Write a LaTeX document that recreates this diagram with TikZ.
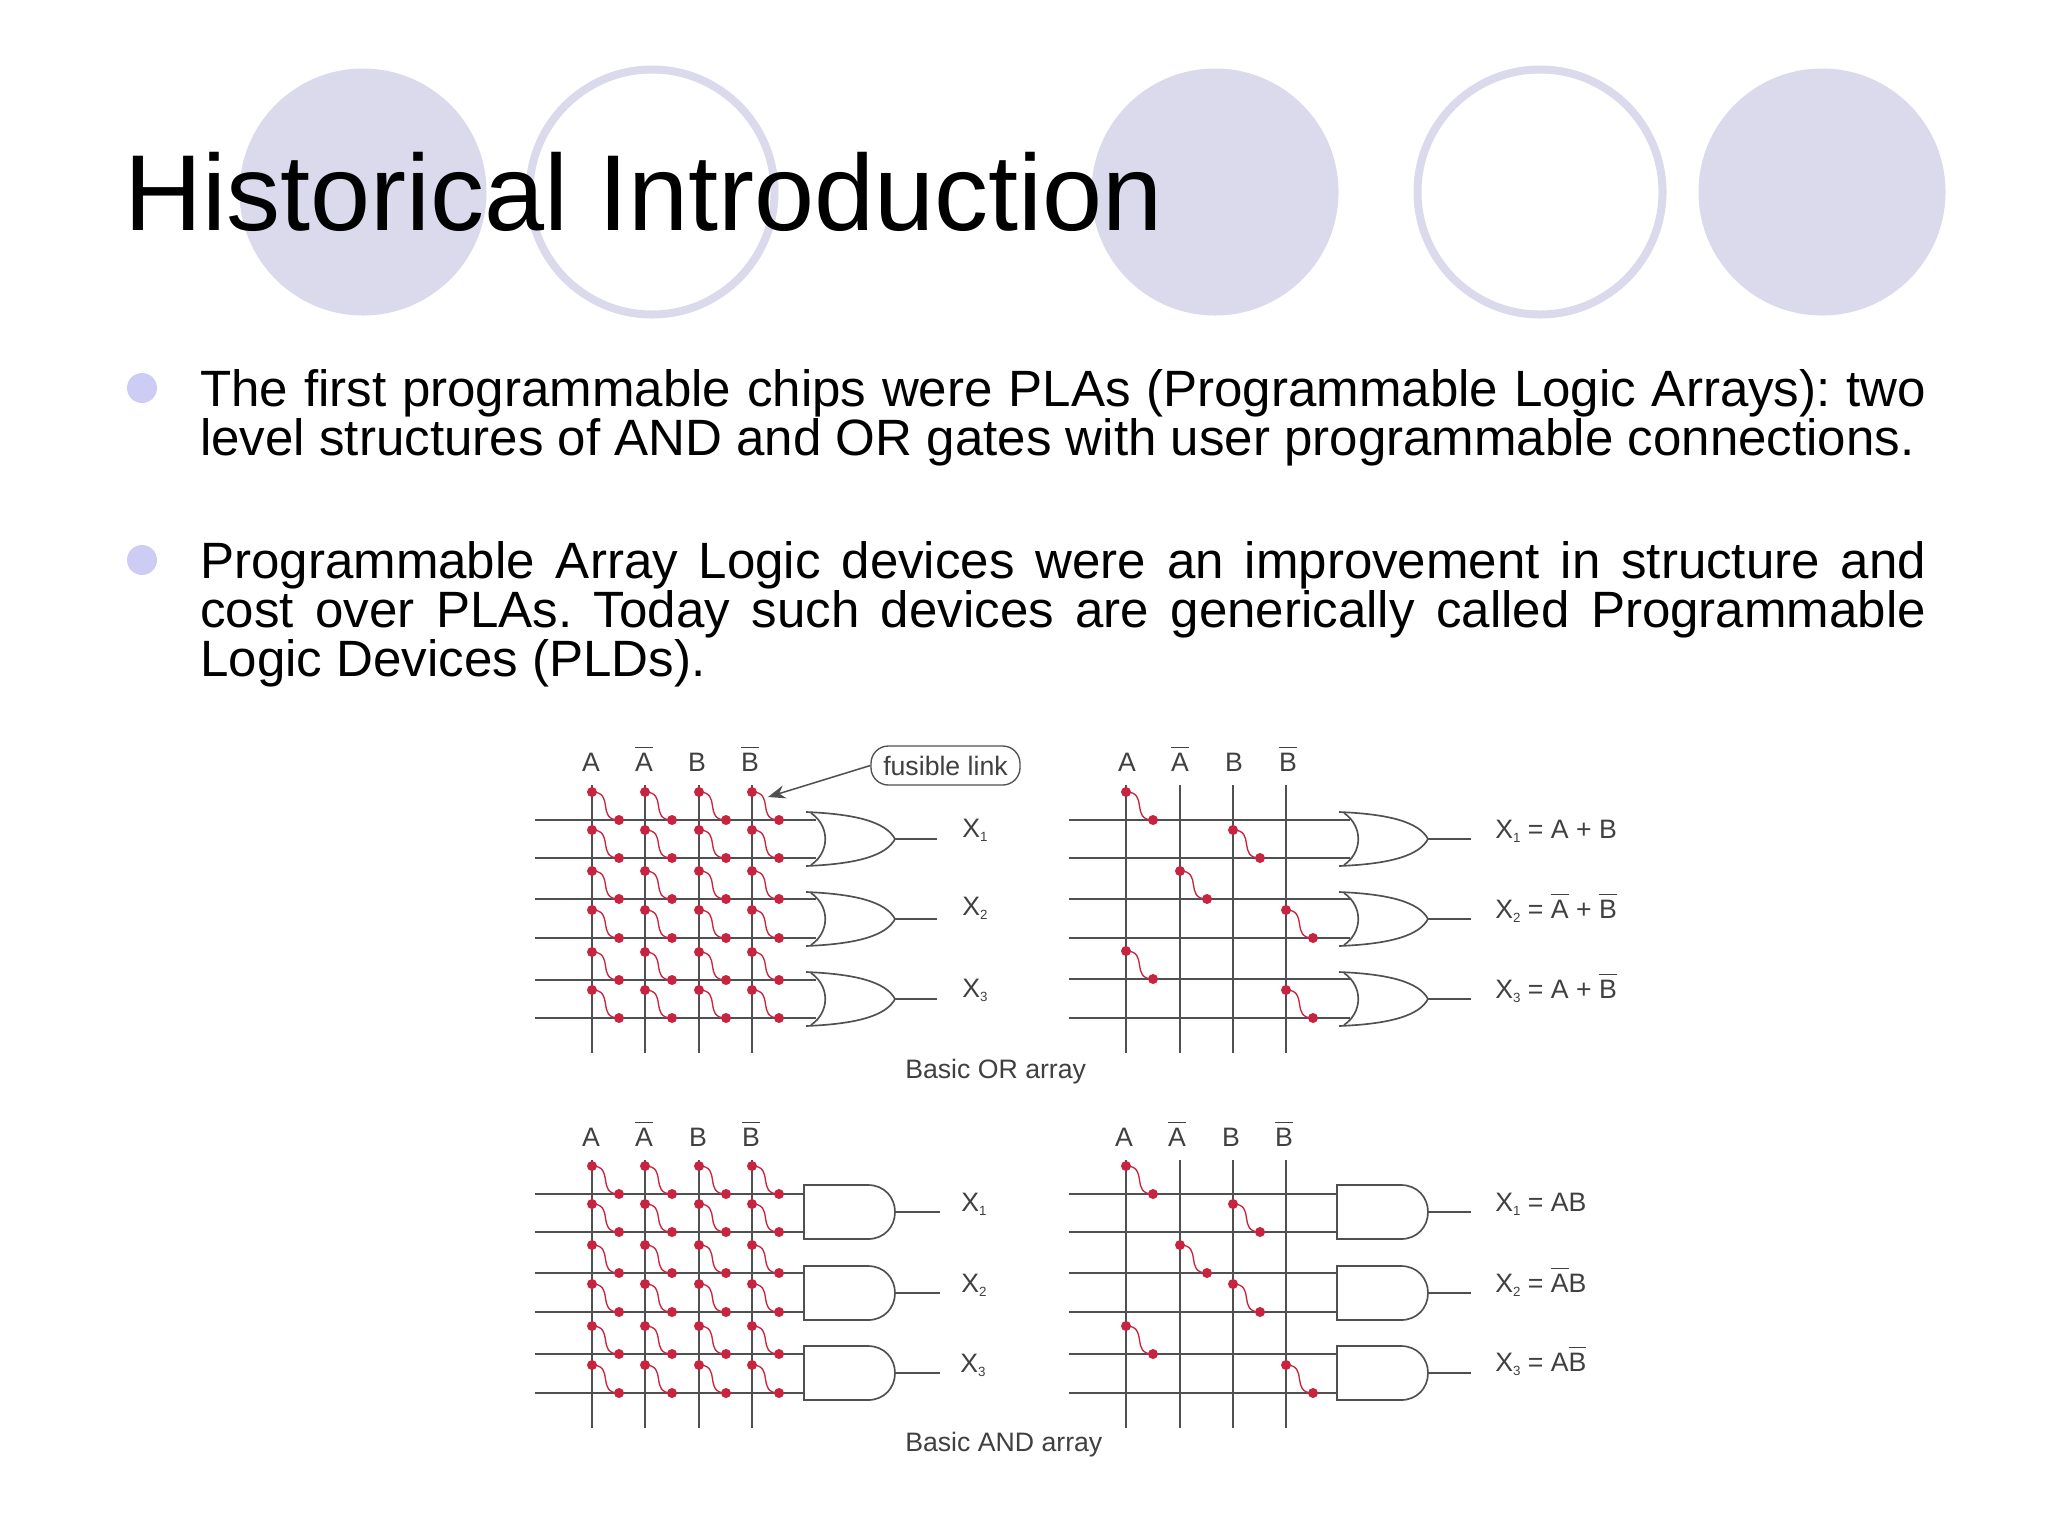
\documentclass[tikz,border=0pt]{standalone}
\usepackage{fontspec}
\setmainfont{Liberation Sans}
\usetikzlibrary{arrows.meta}
\frenchspacing
\definecolor{ringc}{HTML}{DADAEC}
\definecolor{bulc}{HTML}{CCCCF5}
\definecolor{linec}{HTML}{505050}
\definecolor{fusec}{HTML}{C82440}
\definecolor{labc}{HTML}{404040}
\tikzset{
 disc/.style={circle,fill=ringc,minimum size=247*.75pt,inner sep=0,draw=none},
 ring/.style={circle,draw=ringc,line width=6pt,fill=none,minimum size=245*.75pt,inner sep=0},
 bul/.style={circle,fill=bulc,minimum size=30*.75pt,inner sep=0},
 bodyline/.style={anchor=base west,inner sep=0,font=\fontsize{38.3}{38.3}\selectfont},
 wire/.style={draw=linec,line width=1.15pt},
 gate/.style={draw=linec,line width=1.25pt},
 fdot/.style={circle,fill=fusec,minimum size=7.5pt,inner sep=0},
 fuse/.style={draw=fusec,line width=1pt},
 dlab/.style={inner sep=0,yshift=-3pt,text=labc,font=\fontsize{20}{20}\selectfont,text height=.72em,text depth=0pt},
 eqlab/.style={dlab,anchor=west},
}
\newcommand{\ovl}[1]{\ensuremath{\overline{\mbox{\rule{0pt}{.86em}#1}}}}
\newcommand{\Xs}[1]{X\raisebox{-3pt}{\fontsize{10}{10}\selectfont #1}}
% vertical input lines
\newcommand{\vlines}[4]{\foreach \px/\pn in {#1} {
  \coordinate (vt\pn) at (\px,#2); \coordinate (vb\pn) at (\px,#3);
  \draw[wire] (vt\pn) -- (vb\pn);}}
\newcommand{\hlines}[3]{\foreach \py/\pn in {#3} {
  \coordinate (hl\pn) at (#1,\py); \coordinate (hr\pn) at (#2,\py);
  \draw[wire] (hl\pn) -- (hr\pn);}}
\newcommand{\fusible}[2]{
  \node[fdot] (fs) at (#1,#2-28) {};
  \node[fdot] (fe) at (#1+27,#2) {};
  \draw[fuse] (fs.center) .. controls +(23,0) and +(-23,0) .. (fe.center);}
\newcommand{\orgate}[4]{\begin{scope}[shift={(#1,#2)}]
  \coordinate (tp) at (0,0); \coordinate (bt) at (0,54); \coordinate (ns) at (89,27);
  \coordinate (op) at (#3,27);
  \draw[gate] (tp) .. controls (50,2) and (80,10) .. (ns) .. controls (80,44) and (50,52) .. (bt);
  \draw[gate] (5,1) .. controls (24,14) and (24,40) .. (5,53);
  \draw[wire] (ns) -- (op);
  #4
\end{scope}}
\newcommand{\andgate}[3]{\begin{scope}[shift={(#1,#2)}]
  \coordinate (tp) at (0,0); \coordinate (bt) at (0,54); \coordinate (ns) at (91,27);
  \coordinate (op) at (#3,27);
  \draw[gate] (tp) -- (64,0) .. controls (80,0) and (91,12) .. (ns) .. controls (91,42) and (80,54) .. (64,54) -- (bt) -- cycle;
  \draw[wire] (ns) -- (op);
\end{scope}}
\begin{document}
\begin{tikzpicture}[x=.75pt,y=-.75pt]
\useasboundingbox (0,0) rectangle (2048,1536);
\fill[white] (0,0) rectangle (2048,1536);
% decoration
\node[disc] (d1) at (363,192) {};
\node[ring] (r1) at (652,192) {};
\node[disc] (d2) at (1215,192) {};
\node[ring] (r2) at (1540,192) {};
\node[disc] (d3) at (1822,192) {};
% title
\node[anchor=base west,inner sep=0,font=\fontsize{81}{81}\selectfont] (title) at (124,230) {Historical Introduction};
% body
\node[bul] (b1) at (142,388) {};
\node[bul] (b2) at (142,560) {};
\node[bodyline] (l1) at (200,406) {\makebox[1294.5pt][s]{The first programmable chips were PLAs (Programmable Logic Arrays): two}};
\node[bodyline] (l2) at (200,455) {level structures of AND and OR gates with user programmable connections.};
\node[bodyline] (l3) at (200,578) {\makebox[1294.5pt][s]{Programmable Array Logic devices were an improvement in structure and}};
\node[bodyline] (l4) at (200,627) {\makebox[1294.5pt][s]{cost over PLAs. Today such devices are generically called Programmable}};
\node[bodyline] (l5) at (200,676) {Logic Devices (PLDs).};
% ---------- top left
\vlines{592/a,645/b,699/c,752/d}{785}{1053}{}
\hlines{535}{816}{820/a,858/b,899/c,938/d,980/e,1018/f}
\foreach \fx in {592,645,699,752} \foreach \fy in {820,858,899,938,980,1018} {\fusible{\fx}{\fy}}
\orgate{806}{812}{131}{}
\orgate{806}{892}{131}{}
\orgate{806}{972}{131}{}
\node[dlab] (ta1) at (591,763) {A};
\node[dlab] (ta2) at (644,763) {\ovl{A}};
\node[dlab] (ta3) at (697,763) {B};
\node[dlab] (ta4) at (750,763) {\ovl{B}};
\node[dlab] (tx1) at (975,829) {\Xs{1}};
\node[dlab] (tx2) at (975,907) {\Xs{2}};
\node[dlab] (tx3) at (975,989) {\Xs{3}};
\node[draw=linec,line width=1pt,rounded corners=13pt,minimum width=149*.75pt,minimum height=39*.75pt,inner sep=0,text=labc,font=\fontsize{20}{20}\selectfont] (fl) at (945.5,765.5) {fusible link};
\coordinate (flt) at (768,797);
\draw[wire,-{Stealth[length=13pt,width=10pt]}] (fl.west) -- (flt);
% ---------- top right
\vlines{1126/a,1180/b,1233/c,1286/d}{785}{1053}{}
\hlines{1069}{1350}{820/a,858/b,899/c,938/d,979/e,1018/f}
\foreach \fx/\fy in {1126/820,1233/858,1180/899,1286/938,1126/979,1286/1018} {\fusible{\fx}{\fy}}
\orgate{1339}{812}{132}{}
\orgate{1339}{892}{132}{}
\orgate{1339}{972}{132}{}
\node[dlab] (ra1) at (1127,763) {A};
\node[dlab] (ra2) at (1180,763) {\ovl{A}};
\node[dlab] (ra3) at (1234,763) {B};
\node[dlab] (ra4) at (1288,763) {\ovl{B}};
\node[eqlab] (rx1) at (1495,830) {\Xs{1} = A + B};
\node[eqlab] (rx2) at (1495,910) {\Xs{2} = \ovl{A} + \ovl{B}};
\node[eqlab] (rx3) at (1495,990) {\Xs{3} = A + \ovl{B}};
\node[dlab,anchor=west] (cap1) at (905,1070) {Basic OR array};
% ---------- bottom left
\vlines{592/a,645/b,699/c,752/d}{1160}{1428}{}
\hlines{535}{804}{1194/a,1232/b,1273/c,1312/d,1354/e,1393/f}
\foreach \fx in {592,645,699,752} \foreach \fy in {1194,1232,1273,1312,1354,1393} {\fusible{\fx}{\fy}}
\andgate{804}{1185}{136}
\andgate{804}{1266}{136}
\andgate{804}{1346}{136}
\node[dlab] (ba1) at (591,1138) {A};
\node[dlab] (ba2) at (644,1138) {\ovl{A}};
\node[dlab] (ba3) at (698,1138) {B};
\node[dlab] (ba4) at (751,1138) {\ovl{B}};
\node[dlab] (bx1) at (974,1203) {\Xs{1}};
\node[dlab] (bx2) at (974,1284) {\Xs{2}};
\node[dlab] (bx3) at (973,1364) {\Xs{3}};
% ---------- bottom right
\vlines{1126/a,1180/b,1233/c,1286/d}{1160}{1428}{}
\hlines{1069}{1337}{1194/a,1232/b,1273/c,1312/d,1354/e,1393/f}
\foreach \fx/\fy in {1126/1194,1233/1232,1180/1273,1233/1312,1126/1354,1286/1393} {\fusible{\fx}{\fy}}
\andgate{1337}{1185}{134}
\andgate{1337}{1266}{134}
\andgate{1337}{1346}{134}
\node[dlab] (qa1) at (1124,1138) {A};
\node[dlab] (qa2) at (1177,1138) {\ovl{A}};
\node[dlab] (qa3) at (1231,1138) {B};
\node[dlab] (qa4) at (1284,1138) {\ovl{B}};
\node[eqlab] (qx1) at (1495,1203) {\Xs{1} = AB};
\node[eqlab] (qx2) at (1495,1284) {\Xs{2} = \ovl{A}B};
\node[eqlab] (qx3) at (1495,1363) {\Xs{3} = A\ovl{B}};
\node[dlab,anchor=west] (cap2) at (905,1443) {Basic AND array};
\end{tikzpicture}
\end{document}
